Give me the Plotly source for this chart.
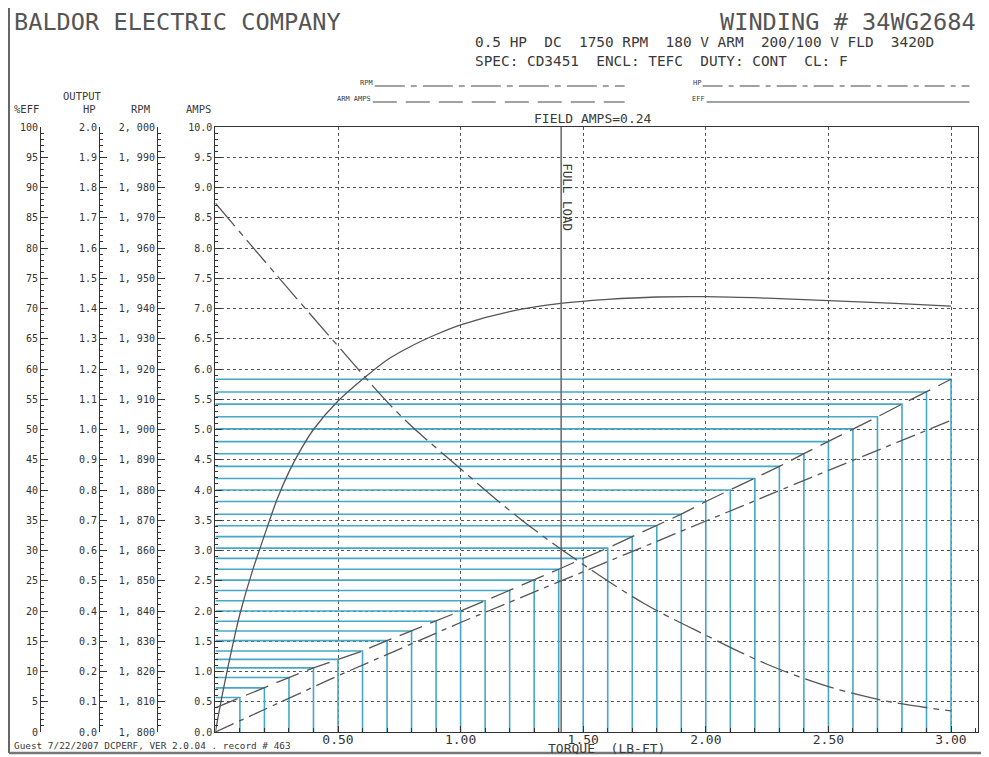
import plotly.graph_objects as go

# ---------------- data ----------------
TORQUE_STEPS = [0.1, 0.2, 0.3, 0.4, 0.5, 0.6, 0.7, 0.8, 0.9, 1.0,
                1.1, 1.2, 1.3, 1.4, 1.5, 1.6, 1.7, 1.8, 1.9, 2.0,
                2.1, 2.2, 2.3, 2.4, 2.5, 2.6, 2.7, 2.8, 2.9, 3.0]
ARM_AMPS_STEPS = [0.57, 0.73, 0.90, 1.06, 1.20, 1.34, 1.51, 1.67, 1.83, 2.00,
                  2.17, 2.34, 2.51, 2.69, 2.87, 3.04, 3.23, 3.41, 3.60, 3.81,
                  4.00, 4.19, 4.39, 4.60, 4.80, 5.01, 5.21, 5.42, 5.62, 5.83]
ARM_AMPS_NO_LOAD = 0.40

HP_TORQUE = [0.0, 0.5, 1.0, 1.5, 2.0, 2.5, 3.0]
HP_VALUES = [0.0, 0.186, 0.362, 0.530, 0.698, 0.865, 1.030]

RPM_TORQUE = [0.0, 0.25, 0.5, 0.75, 1.0, 1.25, 1.5, 1.75, 2.0, 2.25, 2.5, 2.75, 3.0]
RPM_VALUES = [1974.8, 1951.0, 1927.6, 1905.0, 1887.0, 1870.0, 1855.4, 1842.4,
              1832.0, 1822.4, 1815.0, 1810.0, 1807.0]

EFF_TORQUE = [0.0, 0.025, 0.05, 0.075, 0.1, 0.15, 0.2, 0.25, 0.3, 0.35, 0.4, 0.5, 0.6,
              0.7, 0.8, 0.9, 1.0, 1.2, 1.4, 1.6, 1.8, 2.0, 2.25, 2.5, 2.75, 3.0]
EFF_VALUES = [0.0, 5.5, 10.5, 15.2, 19.5, 26.5, 32.5, 38.3, 43.0, 46.8, 50.0, 54.7, 58.3,
              61.5, 63.8, 65.7, 67.3, 69.5, 70.8, 71.5, 71.9, 71.95, 71.7, 71.3,
              70.9, 70.4]

FULL_LOAD_TORQUE = 1.41

X_TICKS = [0.5, 1.0, 1.5, 2.0, 2.5, 3.0]
RPM_TICKS = list(range(1800, 2001, 10))
RPM_TICKTEXT = ["{:d}, {:03d}".format(v // 1000, v % 1000) for v in RPM_TICKS]

# ---------------- layout geometry ----------------
OFF = 8                      # page body margin of the browser
W, H = 989 - OFF, 757 - OFF
ML = 10 - OFF
MT = 127 - OFF
MB = H - (732 - OFF)
MR = W - (978.5 - OFF)
PW = W - ML - MR
PH = H - MT - MB
PLOT_LEFT = 215.5
X_MAX = 3.11


def px(xp):
    """window x pixel -> paper coordinate"""
    return (xp - OFF - ML) / PW


def py(yp):
    """window y pixel -> paper coordinate"""
    return (H - MB - (yp - OFF)) / PH


BLUE = "#45a8c8"
INK = "#3a3a3a"
MONO = "DejaVu Sans Mono"

fig = go.Figure()

# blue staircase (horizontal from axis, vertical down to the torque axis)
sx, sy = [], []
for t, a in zip(TORQUE_STEPS, ARM_AMPS_STEPS):
    sx += [0, t, t, None]
    sy += [a, a, 0, None]
fig.add_trace(go.Scatter(x=sx, y=sy, mode="lines", line=dict(color=BLUE, width=1.6),
                         hoverinfo="skip", showlegend=False))

# ARM AMPS
fig.add_trace(go.Scatter(x=[0.0] + TORQUE_STEPS, y=[ARM_AMPS_NO_LOAD] + ARM_AMPS_STEPS,
                         mode="lines", name="ARM AMPS",
                         line=dict(color="#555", width=1.3, dash="24px,9px"),
                         showlegend=False))
# HP
fig.add_trace(go.Scatter(x=HP_TORQUE, y=HP_VALUES, yaxis="y3", mode="lines", name="HP",
                         line=dict(color="#555", width=1.3, dash="20px,6px,5px,6px"),
                         showlegend=False))
# RPM
fig.add_trace(go.Scatter(x=RPM_TORQUE, y=RPM_VALUES, yaxis="y4", mode="lines", name="RPM",
                         line=dict(color="#555", width=1.3, dash="30px,6px,6px,6px", shape="spline"),
                         showlegend=False))
# EFF
fig.add_trace(go.Scatter(x=EFF_TORQUE, y=EFF_VALUES, yaxis="y2", mode="lines", name="EFF",
                         line=dict(color="#555", width=1.3, shape="spline", smoothing=0.8),
                         showlegend=False))

tickfont = dict(family=MONO, size=10, color="#333")
common_y = dict(ticks="inside", ticklen=7, tickwidth=1, tickcolor="#333",
                showline=True, linecolor="#333", linewidth=1, zeroline=False,
                automargin=False, tickfont=tickfont, fixedrange=True)

fig.update_layout(
    width=W, height=H,
    margin=dict(l=ML, r=MR, t=MT, b=MB),
    paper_bgcolor="white", plot_bgcolor="white",
    xaxis=dict(domain=[px(PLOT_LEFT), 1], range=[0, X_MAX],
               tickmode="array", tickvals=X_TICKS, tickformat=".2f",
               ticks="inside", ticklen=6, tickcolor="#333", ticklabelstandoff=-5,
               minor=dict(tick0=0, dtick=0.1, ticks="inside", ticklen=4, tickcolor="#333",
                          showgrid=False),
               showgrid=True, griddash="dot", gridcolor="#555", gridwidth=1,
               showline=True, mirror=True, linecolor="#333", linewidth=1.3,
               zeroline=False, automargin=False,
               tickfont=dict(family=MONO, size=13, color="#333")),
    yaxis=dict(range=[0, 10], dtick=0.5, tick0=0, tickformat=".1f",
               minor=dict(dtick=0.1, ticks="inside", ticklen=3, tickcolor="#333", showgrid=False),
               showgrid=True, griddash="dot", gridcolor="#555", gridwidth=1,
               mirror=True, **common_y),
    yaxis2=dict(range=[0, 100], dtick=5, tick0=0, overlaying="y", anchor="free",
                position=px(40), side="left", showgrid=False,
                minor=dict(dtick=1, ticks="inside", ticklen=3, tickcolor="#333"),
                **common_y),
    yaxis3=dict(range=[0, 2], dtick=0.1, tick0=0, tickformat=".1f", overlaying="y",
                anchor="free", position=px(99), side="left", showgrid=False,
                minor=dict(dtick=0.02, ticks="inside", ticklen=3, tickcolor="#333"),
                **common_y),
    yaxis4=dict(range=[1800, 2000], tickmode="array", tickvals=RPM_TICKS,
                ticktext=RPM_TICKTEXT, overlaying="y", anchor="free", position=px(157),
                side="left", showgrid=False,
                minor=dict(dtick=2, ticks="inside", ticklen=3, tickcolor="#333"),
                **common_y),
)

shapes = []
# full load line
shapes.append(dict(type="line", xref="x", yref="y", x0=FULL_LOAD_TORQUE, x1=FULL_LOAD_TORQUE,
                   y0=0, y1=10, line=dict(color="#666", width=1.5)))
# page frame (left and bottom)
shapes.append(dict(type="line", xref="paper", yref="paper", x0=px(9), x1=px(9),
                   y0=py(0), y1=py(753), line=dict(color="#333", width=1.5)))
shapes.append(dict(type="line", xref="paper", yref="paper", x0=px(9), x1=px(989),
                   y0=py(753), y1=py(753), line=dict(color="#777", width=2.5)))
# legend lines
legend_lines = [
    (375, 625, 86, "30px,6px,6px,6px"),       # RPM
    (373, 625, 102, "24px,9px"),              # ARM AMPS
    (703, 970, 86, "20px,6px,5px,6px"),       # HP
    (707, 970, 102, "solid"),                 # EFF
]
for x0, x1, yy, d in legend_lines:
    shapes.append(dict(type="line", xref="paper", yref="paper", x0=px(x0), x1=px(x1),
                       y0=py(yy), y1=py(yy), line=dict(color="#444", width=1, dash=d)))
fig.update_layout(shapes=shapes)

ann = []


def text(x, y, s, size, anchor="left", family=MONO, color=INK, angle=0):
    ann.append(dict(xref="paper", yref="paper", x=px(x), y=py(y), text=s, showarrow=False,
                    xanchor=anchor, yanchor="middle", textangle=angle,
                    font=dict(family=family, size=size, color=color)))


text(12, 22, "BALDOR ELECTRIC COMPANY", 23.6, color="#555")
text(978, 22, "WINDING # 34WG2684", 23.6, anchor="right", color="#555")
text(473, 42, "0.5 HP  DC  1750 RPM  180 V ARM  200/100 V FLD  3420D", 14.4)
text(473, 61, "SPEC: CD3451  ENCL: TEFC  DUTY: CONT  CL: F", 14.4)
text(375, 83, "RPM", 7, anchor="right")
text(373, 99, "ARM AMPS", 7, anchor="right")
text(703, 83, "HP", 7, anchor="right")
text(707, 99, "EFF", 7, anchor="right")
text(593, 119, "FIELD AMPS=0.24", 13, anchor="center")
text(12, 109, "%EFF", 10.5)
text(83, 96, "OUTPUT", 10.5, anchor="center")
text(90, 109, "HP", 10.5, anchor="center")
text(141, 109, "RPM", 10.5, anchor="center")
text(199, 109, "AMPS", 10.5, anchor="center")
text(12, 745, "Guest 7/22/2007 DCPERF, VER 2.0.04 . record # 463", 9.4)
text(607, 748, "TORQUE  (LB-FT)", 13, anchor="center")
text(567, 197, "FULL LOAD", 12.5, anchor="center", angle=90)
fig.update_layout(annotations=ann)

fig.write_html("out.html")
